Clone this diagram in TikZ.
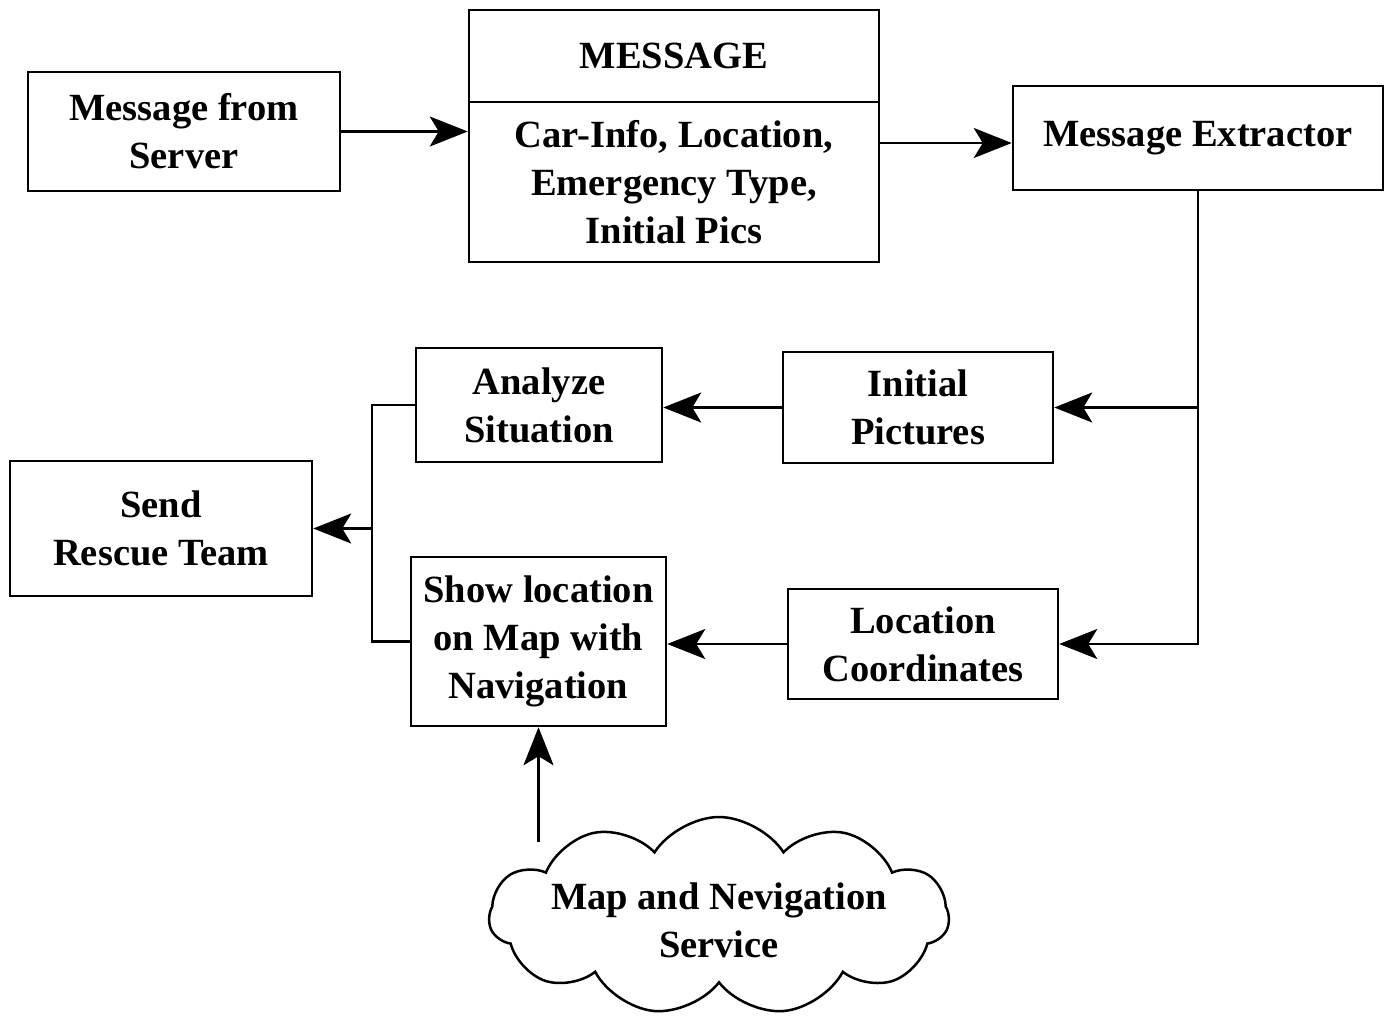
\documentclass[tikz,border=0pt]{standalone}
\usepackage{fontspec}
\setmainfont{Liberation Serif}
\usetikzlibrary{shapes.symbols,arrows.meta}
\begin{document}
\begin{tikzpicture}[x=1pt,y=-1pt,
  every node/.style={font=\fontsize{38.5}{48}\selectfont\bfseries, align=center, inner sep=0pt},
  blk/.style={draw, line width=2.5pt, rectangle},
  conn/.style={line width=2.5pt},
  arr/.style={conn, -{Stealth[length=38pt,width=30pt,inset=9pt]}},
  cloudbox/.style={draw, line width=2.5pt, cloud, cloud puffs=11, cloud puff arc=115, aspect=2.3, minimum width=460pt, minimum height=198pt}
]
\useasboundingbox (0,0) rectangle (1389,1019);

\node[blk, minimum width=312pt, minimum height=119pt] (srv) at (184,131.5) {Message from\\Server};
\node[blk, minimum width=410pt, minimum height=92pt] (msgtop) at (674,56) {MESSAGE};
\node[blk, minimum width=410pt, minimum height=160pt] (msgbody) at (674,182) {Car-Info, Location,\\Emergency Type,\\Initial Pics};
\node[blk, minimum width=370pt, minimum height=104pt] (ext) at (1198,138) {Message Extractor};
\node[blk, minimum width=270pt, minimum height=111pt] (pics) at (918,407.5) {Initial\\Pictures};
\node[blk, minimum width=246pt, minimum height=114pt] (anl) at (539,405) {Analyze\\Situation};
\node[blk, minimum width=302pt, minimum height=135pt] (send) at (161,528.5) {Send\\Rescue Team};
\node[blk, minimum width=255pt, minimum height=169pt] (show) at (538.5,641.5) {Show location\\on Map with\\Navigation};
\node[blk, minimum width=270pt, minimum height=110pt] (loc) at (923,644) {Location\\Coordinates};
\node[cloudbox] (cloud) at (719,916) {};
\node (cloudtxt) at (719,920) {Map and Nevigation\\Service};

\coordinate (j) at (372,528.5);
\coordinate (ctop) at (540,842);

\draw[arr] (srv.east) -- (srv.east -| msgbody.west);
\draw[arr] ([yshift=-5pt]ext.west -| msgbody.east) -- ([yshift=-5pt]ext.west);
\draw[arr] (ext.south) |- (pics.east);
\draw[arr] (ext.south) |- (loc.east);
\draw[arr] (pics.west) -- (pics.west -| anl.east);
\draw[arr] (loc.west) -- (loc.west -| show.east);
\draw[conn] (anl.west) -- (anl.west -| j) -- (show.west -| j) -- (show.west);
\draw[arr] (j) -- (send.east);
\draw[arr] (show.south |- ctop) -- (show.south);
\end{tikzpicture}
\end{document}
